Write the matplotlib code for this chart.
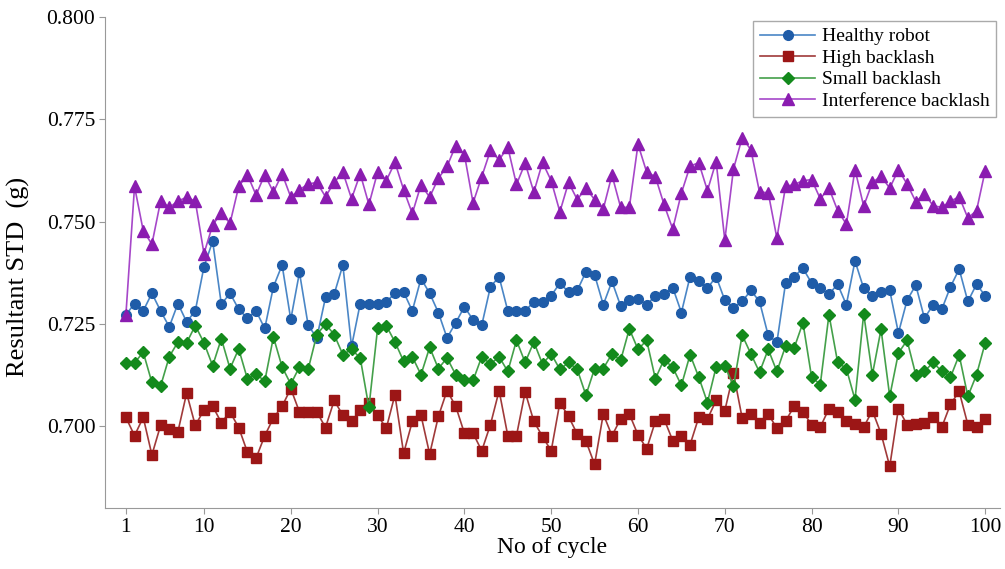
import matplotlib.pyplot as plt
import numpy as np

cycles = np.arange(1, 101)

healthy = [0.7272, 0.7300, 0.7282, 0.7325, 0.7282, 0.7243, 0.7300, 0.7255, 0.7282, 0.7390,
           0.7452, 0.7298, 0.7325, 0.7286, 0.7264, 0.7282, 0.7239, 0.7341, 0.7394, 0.7261,
           0.7376, 0.7247, 0.7216, 0.7315, 0.7323, 0.7394, 0.7195, 0.7300, 0.7300, 0.7300,
           0.7304, 0.7325, 0.7328, 0.7282, 0.7361, 0.7325, 0.7278, 0.7216, 0.7253, 0.7292,
           0.7260, 0.7247, 0.7341, 0.7365, 0.7282, 0.7282, 0.7282, 0.7304, 0.7304, 0.7319,
           0.7350, 0.7328, 0.7332, 0.7377, 0.7370, 0.7297, 0.7354, 0.7294, 0.7308, 0.7312,
           0.7297, 0.7319, 0.7323, 0.7339, 0.7278, 0.7366, 0.7354, 0.7337, 0.7366, 0.7308,
           0.7290, 0.7305, 0.7332, 0.7305, 0.7222, 0.7205, 0.7350, 0.7366, 0.7386, 0.7350,
           0.7337, 0.7323, 0.7347, 0.7297, 0.7404, 0.7337, 0.7319, 0.7329, 0.7332, 0.7228,
           0.7308, 0.7345, 0.7264, 0.7297, 0.7286, 0.7341, 0.7384, 0.7305, 0.7347, 0.7319]

high = [0.7022, 0.6977, 0.7022, 0.6930, 0.7002, 0.6994, 0.6987, 0.7081, 0.7002, 0.7040,
        0.7049, 0.7009, 0.7035, 0.6997, 0.6937, 0.6922, 0.6977, 0.7020, 0.7049, 0.7092,
        0.7035, 0.7035, 0.7035, 0.6997, 0.7063, 0.7027, 0.7012, 0.7040, 0.7058, 0.7027,
        0.6995, 0.7077, 0.6934, 0.7012, 0.7027, 0.6932, 0.7024, 0.7087, 0.7049, 0.6983,
        0.6983, 0.6940, 0.7004, 0.7087, 0.6977, 0.6977, 0.7084, 0.7012, 0.6975, 0.6940,
        0.7058, 0.7024, 0.6981, 0.6964, 0.6907, 0.7030, 0.6977, 0.7018, 0.7030, 0.6979,
        0.6945, 0.7012, 0.7018, 0.6965, 0.6977, 0.6955, 0.7022, 0.7018, 0.7063, 0.7038,
        0.7130, 0.7020, 0.7030, 0.7009, 0.7030, 0.6995, 0.7013, 0.7049, 0.7035, 0.7004,
        0.6998, 0.7043, 0.7035, 0.7012, 0.7005, 0.6998, 0.7038, 0.6982, 0.6902, 0.7043,
        0.7004, 0.7005, 0.7009, 0.7022, 0.6998, 0.7054, 0.7085, 0.7004, 0.6998, 0.7018]

small = [0.7155, 0.7155, 0.7181, 0.7107, 0.7098, 0.7170, 0.7206, 0.7204, 0.7246, 0.7204,
         0.7148, 0.7214, 0.7141, 0.7189, 0.7116, 0.7128, 0.7110, 0.7218, 0.7145, 0.7103,
         0.7145, 0.7139, 0.7224, 0.7250, 0.7224, 0.7175, 0.7188, 0.7167, 0.7046, 0.7239,
         0.7246, 0.7206, 0.7159, 0.7170, 0.7126, 0.7193, 0.7141, 0.7167, 0.7126, 0.7112,
         0.7112, 0.7170, 0.7152, 0.7170, 0.7134, 0.7210, 0.7156, 0.7206, 0.7152, 0.7177,
         0.7139, 0.7156, 0.7139, 0.7076, 0.7141, 0.7141, 0.7177, 0.7161, 0.7238, 0.7188,
         0.7210, 0.7116, 0.7163, 0.7144, 0.7100, 0.7175, 0.7120, 0.7058, 0.7145, 0.7148,
         0.7098, 0.7223, 0.7177, 0.7132, 0.7188, 0.7134, 0.7196, 0.7192, 0.7253, 0.7120,
         0.7102, 0.7273, 0.7156, 0.7141, 0.7065, 0.7275, 0.7126, 0.7237, 0.7073, 0.7179,
         0.7210, 0.7126, 0.7134, 0.7156, 0.7134, 0.7120, 0.7174, 0.7073, 0.7126, 0.7204]

interference = [0.7271, 0.7586, 0.7478, 0.7445, 0.7550, 0.7535, 0.7550, 0.7560, 0.7550, 0.7422,
                0.7492, 0.7521, 0.7496, 0.7586, 0.7615, 0.7565, 0.7615, 0.7572, 0.7617, 0.7560,
                0.7578, 0.7592, 0.7596, 0.7561, 0.7596, 0.7621, 0.7556, 0.7617, 0.7542, 0.7621,
                0.7600, 0.7645, 0.7578, 0.7520, 0.7590, 0.7560, 0.7606, 0.7635, 0.7686, 0.7664,
                0.7546, 0.7610, 0.7674, 0.7651, 0.7682, 0.7591, 0.7643, 0.7572, 0.7645, 0.7600,
                0.7524, 0.7596, 0.7554, 0.7582, 0.7554, 0.7531, 0.7614, 0.7535, 0.7535, 0.7689,
                0.7621, 0.7610, 0.7542, 0.7482, 0.7570, 0.7636, 0.7644, 0.7576, 0.7647, 0.7455,
                0.7629, 0.7705, 0.7676, 0.7572, 0.7571, 0.7460, 0.7586, 0.7591, 0.7600, 0.7603,
                0.7556, 0.7582, 0.7527, 0.7494, 0.7627, 0.7538, 0.7596, 0.7611, 0.7582, 0.7627,
                0.7592, 0.7549, 0.7568, 0.7539, 0.7535, 0.7550, 0.7561, 0.7509, 0.7527, 0.7625]

labels = ['Healthy robot', 'High backlash', 'Small backlash', 'Interference backlash']
xticks = [1, 10, 20, 30, 40, 50, 60, 70, 80, 90, 100]
yticks = [0.700, 0.725, 0.750, 0.775, 0.800]

plt.rcParams['font.family'] = ['Liberation Serif', 'DejaVu Serif']

fig = plt.figure(figsize=(10.05, 5.69), dpi=100)
ax = fig.add_axes([0.1045, 0.107, 0.8905, 0.863])

styles = [
    (healthy, '#4a86c6', '#1f5ca8', 'o', 7),
    (high, '#a03a3a', '#9c1616', 's', 6.5),
    (small, '#44a04a', '#138a1c', 'D', 6),
    (interference, '#a647c9', '#8a1cb0', '^', 8),
]
for (vals, lc, mc, mk, ms), lab in zip(styles, labels):
    ax.plot(cycles, vals, color=lc, lw=1.2, marker=mk, ms=ms,
            markerfacecolor=mc, markeredgecolor=mc, label=lab)

ax.set_xlim(-1.4, 101.7)
ax.set_ylim(0.680, 0.800)
ax.set_xticks(xticks)
ax.set_yticks(yticks)
ax.set_yticklabels(['%.3f' % v for v in yticks])
ax.tick_params(labelsize=15.5, color='#999999', length=4, pad=3)
for s in ['top', 'right']:
    ax.spines[s].set_visible(False)
for s in ['left', 'bottom']:
    ax.spines[s].set_color('#999999')

ax.set_xlabel('No of cycle', fontsize=17, labelpad=0)
ax.set_ylabel('Resultant STD  (g)', fontsize=19)
ax.yaxis.set_label_coords(-0.084, 0.47)

leg = ax.legend(loc='upper right', fontsize=14, fancybox=False, framealpha=1,
                edgecolor='#aaaaaa', handlelength=2.8, handletextpad=0.35,
                labelspacing=0.2, borderaxespad=0.2, borderpad=0.35)
leg.get_frame().set_linewidth(1.0)

fig.savefig('out.png', dpi=100)
